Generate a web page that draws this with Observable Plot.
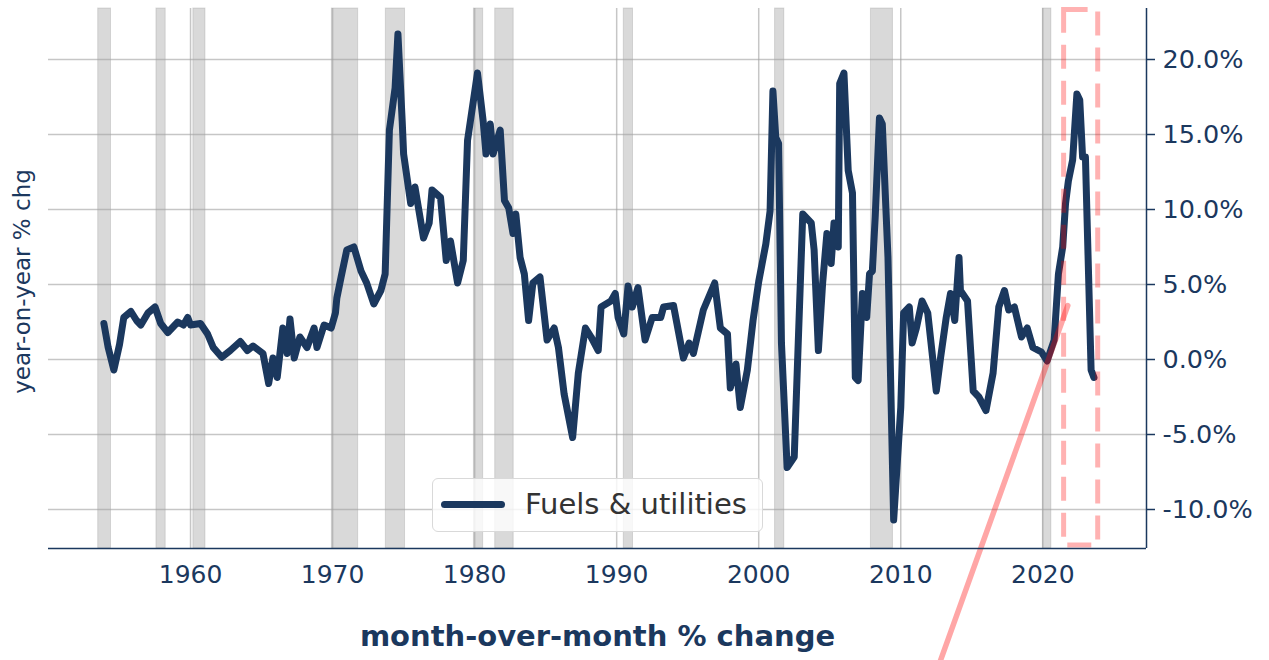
<!DOCTYPE html>
<html><head><meta charset="utf-8">
<script src="https://cdn.jsdelivr.net/npm/d3@7"></script>
<script src="https://cdn.jsdelivr.net/npm/@observablehq/plot@0.6"></script>
<style>
body{margin:0;background:#fff;font-family:"DejaVu Sans",sans-serif;}
#wrap{position:relative;width:1269px;height:660px;overflow:hidden;}
#legend{position:absolute;left:432px;top:478px;width:331px;height:54px;box-sizing:border-box;border:1.5px solid #d9d9d9;border-radius:6px;background:rgba(255,255,255,0.8);}
#legend .sw{position:absolute;left:8px;top:22px;width:64px;height:7px;border-radius:3.5px;background:#1b385e;}
#legend .lb{position:absolute;left:92px;top:0;line-height:50px;font-size:29px;color:#333;white-space:nowrap;}
</style></head>
<body><div id="wrap"></div>
<script>
const navy = "#1b385e";
const xTicks = [1960, 1970, 1980, 1990, 2000, 2010, 2020];
const yTicks = [-10, -5, 0, 5, 10, 15, 20];
const xDomain = [1950, 2027.3];
const yDomain = [-12.6, 23.4];

const years = [1953.9,1954.2,1954.6,1955.0,1955.3,1955.8,1956.2,1956.5,1957.0,1957.5,1957.9,1958.4,1959.1,1959.5,1959.8,1960.0,1960.7,1961.2,1961.6,1962.2,1962.8,1963.5,1964.0,1964.4,1965.1,1965.5,1965.8,1966.1,1966.5,1966.8,1967.0,1967.3,1967.7,1968.2,1968.7,1968.9,1969.4,1969.9,1970.2,1970.3,1970.6,1971.0,1971.5,1972.0,1972.4,1972.9,1973.4,1973.7,1974.0,1974.4,1974.6,1974.9,1975.0,1975.5,1975.8,1976.4,1976.8,1977.0,1977.6,1978.0,1978.3,1978.8,1979.2,1979.5,1980.2,1980.6,1980.8,1981.1,1981.3,1981.8,1982.1,1982.4,1982.7,1982.9,1983.2,1983.5,1983.8,1984.1,1984.6,1985.1,1985.6,1985.9,1986.3,1986.9,1987.3,1987.8,1988.2,1988.7,1988.9,1989.6,1989.9,1990.1,1990.5,1990.8,1991.1,1991.5,1992.0,1992.5,1993.1,1993.3,1994.0,1994.7,1995.1,1995.4,1996.1,1996.9,1997.3,1997.8,1998.0,1998.4,1998.7,1999.2,1999.6,2000.0,2000.5,2000.8,2001.0,2001.2,2001.4,2001.6,2002.0,2002.5,2003.1,2003.7,2003.9,2004.2,2004.5,2004.8,2005.1,2005.3,2005.6,2005.7,2006.0,2006.3,2006.6,2006.8,2007.0,2007.3,2007.6,2007.8,2008.0,2008.2,2008.5,2008.7,2009.1,2009.5,2010.0,2010.2,2010.6,2010.8,2011.1,2011.5,2011.9,2012.5,2012.8,2013.2,2013.5,2013.8,2014.1,2014.2,2014.7,2015.1,2015.5,2016.0,2016.5,2016.9,2017.3,2017.6,2018.0,2018.5,2018.9,2019.3,2019.9,2020.3,2020.8,2021.1,2021.4,2021.6,2021.8,2022.1,2022.4,2022.6,2022.8,2023.0,2023.4,2023.6];
const values = [2.4,0.8,-0.7,1.0,2.8,3.2,2.6,2.3,3.1,3.5,2.4,1.8,2.5,2.3,2.8,2.3,2.4,1.7,0.8,0.15,0.6,1.2,0.6,0.9,0.4,-1.6,0.1,-1.2,2.1,0.4,2.7,0.1,1.5,0.8,2.1,0.8,2.3,2.1,3.1,4.1,5.5,7.3,7.5,5.9,5.1,3.7,4.6,5.7,15.3,18.1,21.7,15.9,13.7,10.4,11.5,8.1,9.1,11.3,10.8,6.6,7.9,5.1,6.6,14.6,19.1,15.9,13.7,15.7,13.7,15.3,10.6,10.1,8.4,9.7,6.8,5.7,2.6,5.1,5.5,1.3,2.1,0.8,-2.3,-5.2,-0.9,2.1,1.5,0.6,3.5,3.9,4.4,2.8,1.7,4.9,3.5,4.8,1.3,2.8,2.8,3.5,3.6,0.1,1.1,0.4,3.3,5.1,2.1,1.7,-1.9,-0.3,-3.2,-0.7,2.6,5.2,7.7,9.9,17.9,14.8,14.4,1.1,-7.2,-6.5,9.7,9.1,7.3,0.6,5.1,8.4,6.4,9.1,7.5,18.4,19.1,12.6,11.1,-1.2,-1.4,4.4,2.8,5.7,5.9,9.5,16.1,15.7,6.8,-10.7,-3.2,3.1,3.5,1.1,2.1,3.9,3.1,-2.1,0.1,2.8,4.4,2.6,6.8,4.6,3.9,-2.1,-2.5,-3.4,-0.9,3.5,4.6,3.3,3.5,1.5,2.1,0.8,0.5,-0.1,1.3,5.7,7.5,10.4,11.9,13.3,17.7,17.3,13.5,13.5,-0.7,-1.2];

const recessionStart = [1953.5,1957.6,1960.2,1969.95,1973.75,1979.95,1981.45,1990.5,2001.15,2007.9,2020.0];
const recessionEnd   = [1954.4,1958.25,1961.05,1971.8,1975.1,1980.6,1982.75,1991.15,2001.8,2009.45,2020.6];

const highlightX = [2021.5, 2023.9];
const highlightY = [-12.4, 23.3];
const connectorX = [2021.76, 2011.8];
const connectorY = [3.6, -22.7];

const series = years.map((y, i) => ({year: y, value: values[i]}));
const recessions = recessionStart.map((s, i) => ({start: s, end: recessionEnd[i]}));
const highlight = [{x1: highlightX[0], x2: highlightX[1], y1: highlightY[0], y2: highlightY[1]}];
const connector = connectorX.map((x, i) => ({x, y: connectorY[i]}));

const chart = Plot.plot({
  width: 1269, height: 660,
  marginLeft: 48, marginRight: 123, marginTop: 8, marginBottom: 112,
  style: {fontFamily: "DejaVu Sans", fontSize: "25px", color: navy, background: "transparent", overflow: "hidden"},
  x: {domain: xDomain},
  y: {domain: yDomain},
  marks: [
    Plot.rect(recessions, {x1: "start", x2: "end", y1: () => yDomain[0], y2: () => yDomain[1], fill: "#808080", fillOpacity: 0.3, stroke: "#808080", strokeOpacity: 0.25, strokeWidth: 1}),
    Plot.gridX(xTicks, {stroke: "#a0a0a0", strokeOpacity: 0.6, strokeWidth: 1.5}),
    Plot.gridY(yTicks, {stroke: "#a0a0a0", strokeOpacity: 0.6, strokeWidth: 1.5}),
    Plot.line(series, {x: "year", y: "value", stroke: navy, strokeWidth: 7, strokeLinejoin: "round", strokeLinecap: "round"}),
    Plot.rect(highlight, {x1: "x1", x2: "x2", y1: "y1", y2: "y2", fill: "none", stroke: "red", strokeOpacity: 0.3, strokeWidth: 5, strokeDasharray: "24,12"}),
    Plot.line(connector, {x: "x", y: "y", stroke: "red", strokeOpacity: 0.35, strokeWidth: 5.5, clip: false}),
    Plot.axisX(xTicks, {tickSize: 0, tickPadding: 17, tickFormat: d => String(d), label: null, fontSize: 25}),
    Plot.axisY(yTicks, {anchor: "right", tickSize: 8, tickPadding: 8, tickFormat: d => d.toFixed(1) + "%", label: null, fontSize: 25.5, strokeWidth: 1.5}),
    Plot.ruleY([yDomain[0]], {stroke: navy, strokeWidth: 1.5}),
    Plot.ruleX([xDomain[1]], {stroke: navy, strokeWidth: 1.5}),
    Plot.text(["year-on-year % chg"], {text: d => d, frameAnchor: "left", textAnchor: "middle", dx: -26, dy: 3, rotate: -90, fontSize: 23, fill: navy}),
    Plot.text(["month-over-month % change"], {text: d => d, frameAnchor: "bottom", dy: 97, fontSize: 29, fontWeight: "bold", fill: navy})
  ]
});
const wrap = document.getElementById("wrap");
wrap.appendChild(chart);
const leg = document.createElement("div");
leg.id = "legend";
leg.innerHTML = '<div class="sw"></div><div class="lb">Fuels &amp; utilities</div>';
wrap.appendChild(leg);
</script>
</body></html>
